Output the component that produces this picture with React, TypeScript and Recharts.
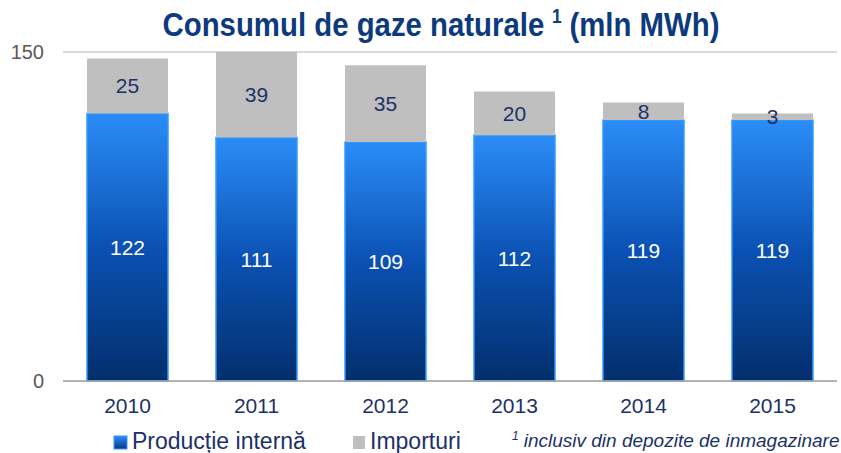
import React from "react";
import {
  BarChart,
  Bar,
  XAxis,
  YAxis,
  CartesianGrid,
  LabelList,
} from "recharts";

const years = ["2010", "2011", "2012", "2013", "2014", "2015"];
const productie = [122, 111, 109, 112, 119, 119];
const importuri = [25, 39, 35, 20, 8, 3];
const yTicks = [0, 150];
const edgeTicks = [0, 1, 2, 3, 4, 5, 6];

const data = years.map((year, i) => ({
  year,
  prod: productie[i],
  imp: importuri[i],
}));

const NAVY = "#1c3266";
const TITLE = "#0d3a7c";
const GRAY = "#bfbfbf";
const FONT = "'Liberation Sans', Arial, sans-serif";

export default function App() {
  return (
    <div
      style={{
        position: "absolute",
        left: 0,
        top: 0,
        width: 841,
        height: 453,
        background: "#fff",
        fontFamily: FONT,
      }}
    >
      <BarChart
        width={841}
        height={453}
        data={data}
        margin={{ top: 52, right: 4, left: 8, bottom: 42 }}
        barCategoryGap="18.6%"
      >
        <defs>
          <linearGradient id="prodGrad" x1="0" y1="0" x2="0" y2="1">
            <stop offset="0%" stopColor="#2b8df8" />
            <stop offset="50%" stopColor="#0b51b3" />
            <stop offset="100%" stopColor="#032f6c" />
          </linearGradient>
        </defs>
        <CartesianGrid
          horizontal
          vertical={false}
          stroke="#d9d9d9"
          strokeWidth={2}
        />
        <XAxis
          xAxisId="edges"
          type="number"
          domain={[0, 6]}
          ticks={edgeTicks}
          height={0}
          axisLine={false}
          tickLine={{ stroke: "#a6a6a6", strokeWidth: 1.5 }}
          tickSize={6}
          tickFormatter={() => ""}
        />
        <XAxis
          dataKey="year"
          height={30}
          axisLine={{ stroke: "#a6a6a6", strokeWidth: 1.5 }}
          tickLine={false}
          tickSize={6}
          tickMargin={11}
          tick={{ fill: NAVY, fontSize: 21, fontFamily: FONT }}
        />
        <YAxis
          width={55}
          domain={[0, 150]}
          ticks={yTicks}
          axisLine={false}
          tickLine={false}
          tickSize={6}
          tickMargin={13}
          tick={{ fill: "#595959", fontSize: 20, fontFamily: FONT }}
        />
        <Bar
          dataKey="prod"
          stackId="a"
          fill="url(#prodGrad)"
          stroke="#3399ff"
          strokeWidth={1.5}
          isAnimationActive={false}
        >
          <LabelList
            dataKey="prod"
            position="center"
            fill="#ffffff"
            fontSize={21}
            fontFamily={FONT}
          />
        </Bar>
        <Bar
          dataKey="imp"
          stackId="a"
          fill={GRAY}
          isAnimationActive={false}
        >
          <LabelList
            dataKey="imp"
            position="center"
            fill={NAVY}
            fontSize={21}
            fontFamily={FONT}
          />
        </Bar>
      </BarChart>

      {/* title, legend and footnote */}
      <svg
        width={841}
        height={453}
        style={{ position: "absolute", left: 0, top: 0, pointerEvents: "none" }}
      >
        <defs>
          <linearGradient id="legendGrad" x1="0" y1="0" x2="0" y2="1">
            <stop offset="0%" stopColor="#2b8df8" />
            <stop offset="100%" stopColor="#053a85" />
          </linearGradient>
        </defs>
        <text
          x={441}
          y={36}
          textAnchor="middle"
          fill={TITLE}
          fontWeight="bold"
          fontSize={34}
          fontFamily="'Liberation Sans Narrow', 'Liberation Sans', Arial, sans-serif"
          textLength={557}
          lengthAdjust="spacingAndGlyphs"
        >
          <tspan>Consumul de gaze naturale</tspan>
          <tspan dx={9} fontSize={20} dy={-13}>
            1
          </tspan>
          <tspan dx={9} dy={13}>
            (mln MWh)
          </tspan>
        </text>

        <rect
          x={114}
          y={436}
          width={13}
          height={13}
          fill="url(#legendGrad)"
          stroke="#3399ff"
          strokeWidth={1}
        />
        <text x={132} y={449} fill={NAVY} fontSize={23} fontFamily={FONT}>
          Producție internă
        </text>
        <rect x={353} y={436} width={12} height={13} fill={GRAY} />
        <text x={370} y={449} fill={NAVY} fontSize={23} fontFamily={FONT}>
          Importuri
        </text>
        <text
          x={512}
          y={447}
          fill={NAVY}
          fontSize={19}
          fontStyle="italic"
          fontFamily={FONT}
        >
          <tspan fontSize={12} dy={-7}>
            1
          </tspan>
          <tspan dx={5} dy={7}>
            inclusiv din depozite de inmagazinare
          </tspan>
        </text>
      </svg>
    </div>
  );
}
